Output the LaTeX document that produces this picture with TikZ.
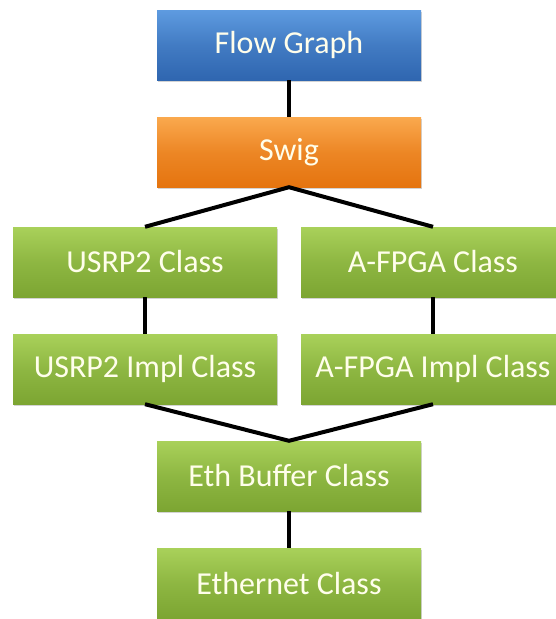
\documentclass[tikz,border=0pt]{standalone}
\usepackage{fontspec}
\setmainfont{Carlito}
\usetikzlibrary{shadows}
\definecolor{graph light}{HTML}{5E9BE0}
\definecolor{graph dark}{HTML}{2F66B0}
\definecolor{swig light}{HTML}{FAA94E}
\definecolor{swig dark}{HTML}{E5740F}
\definecolor{class light}{HTML}{A9D15A}
\definecolor{class dark}{HTML}{7CA532}
\colorlet{label text}{white!92!yellow}
\tikzset{box/.style={minimum width=264pt, minimum height=70pt, inner sep=0pt,
        text=label text, font=\fontsize{32}{38}\selectfont,
        drop shadow={shadow xshift=1pt, shadow yshift=-2pt, opacity=0.35}},
      graphbox/.style={box, top color=graph light, bottom color=graph dark, middle color=graph light!40!graph dark},
      swigbox/.style={box, top color=swig light, bottom color=swig dark, middle color=swig light!35!swig dark},
      classbox/.style={box, top color=class light, bottom color=class dark, middle color=class light!40!class dark},
      link/.style={draw=black, line width=4pt}}

\begin{document}
\begin{tikzpicture}[x=1pt,y=-1pt]
    \useasboundingbox (0,0) rectangle (556,619);
    \node[graphbox] (graph)  at (289,45)  {Flow Graph};
    \node[swigbox]  (swig)   at (289,152) {Swig};
    \node[classbox] (usrp)   at (145,262) {USRP2 Class};
    \node[classbox] (fpga)   at (433,262) {A-FPGA Class};
    \node[classbox] (usrpimpl) at (145,369) {USRP2 Impl Class};
    \node[classbox] (fpgaimpl) at (433,369) {A-FPGA Impl Class};
    \node[classbox] (buffer) at (289,476) {Eth Buffer Class};
    \node[classbox] (eth)    at (289,583) {Ethernet Class};
    % connectors
    \draw[link] (graph.south) -- (swig.north);
    \draw[link] (usrp.north) -- (swig.south) -- (fpga.north);
    \draw[link] (usrp.south) -- (usrpimpl.north);
    \draw[link] (fpga.south) -- (fpgaimpl.north);
    \draw[link] (usrpimpl.south) -- (buffer.north) -- (fpgaimpl.south);
    \draw[link] (buffer.south) -- (eth.north);
\end{tikzpicture}
\end{document}
